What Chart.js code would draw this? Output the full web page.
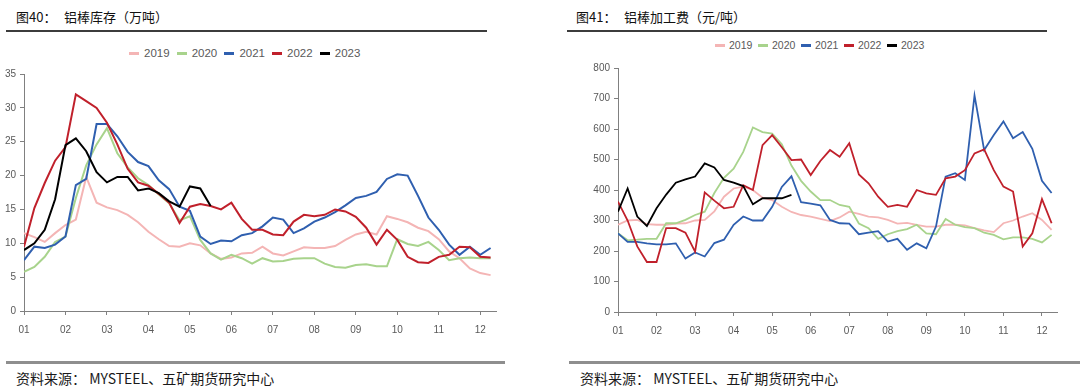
<!DOCTYPE html>
<html>
<head>
<meta charset="utf-8">
<script src="https://cdn.jsdelivr.net/npm/chart.js@4.4.0/dist/chart.umd.min.js"></script>
<style>
html,body{margin:0;padding:0;background:#fff;}
body{width:1080px;height:386px;overflow:hidden;position:relative;font-family:"Noto Sans CJK SC","Noto Sans",sans-serif;}
.t{position:absolute;top:8px;font-size:13px;line-height:18px;color:#111;white-space:nowrap;}
.rule{position:absolute;top:30px;height:1.5px;background:#3c3c3c;}
.srule{position:absolute;top:361px;height:2.5px;background:#8e8e8e;}
.src{position:absolute;top:369px;font-size:14px;line-height:18px;color:#1a1a1a;white-space:nowrap;}
.lg{position:absolute;display:flex;white-space:nowrap;color:#595959;font-family:"Liberation Sans Narrow","Arial Narrow","Liberation Sans",Arial,sans-serif;}
.lg .it{display:flex;align-items:center;}
.lg .mk{display:inline-block;height:3px;}
.box{position:absolute;}
</style>
</head>
<body>
<div class="t" style="left:16px">图40：</div>
<div class="t" style="left:64px">铝棒库存（万吨）</div>
<div class="rule" style="left:6px;width:481px"></div>
<div class="t" style="left:576px">图41：</div>
<div class="t" style="left:624px">铝棒加工费（元/吨）</div>
<div class="rule" style="left:567px;width:480px"></div>

<div class="lg" id="lg1" style="left:129px;top:45px;font-size:11.5px;line-height:16px"></div>
<div class="lg" id="lg2" style="left:715px;top:38px;font-size:10.5px;line-height:15px"></div>

<div class="box" style="left:0;top:60px;width:510px;height:276px"><canvas id="c1"></canvas></div>
<div class="box" style="left:560px;top:55px;width:510px;height:282px"><canvas id="c2"></canvas></div>

<div class="srule" style="left:6px;width:499px"></div>
<div class="src" style="left:16px">资料来源： MYSTEEL、五矿期货研究中心</div>
<div class="srule" style="left:569px;width:511px"></div>
<div class="src" style="left:580px">资料来源： MYSTEEL、五矿期货研究中心</div>

<script>
// ---------- data ----------
const years = ['2019', '2020', '2021', '2022', '2023'];
const colors = ['#f4b5b5', '#a8d38c', '#2f5faf', '#c0202b', '#000000'];
const monthLabels = ['01','02','03','04','05','06','07','08','09','10','11','12'];
const STEP = 0.25; // one sample per quarter month

// 图40 铝棒库存（万吨）
const inv2019 = [11.5,10.9,10.2,11.5,12.7,13.5,19.8,16.0,15.3,14.9,14.2,13.1,11.7,10.6,9.6,9.5,10.0,9.7,8.5,7.7,7.9,8.5,8.6,9.5,8.5,8.2,8.8,9.4,9.3,9.3,9.6,10.5,11.3,11.7,11.3,14.0,13.6,13.1,12.3,11.8,10.6,8.8,7.8,6.3,5.6,5.3];
const inv2020 = [5.8,6.5,8.0,10.2,11.0,16.7,21.5,24.6,27.0,23.3,21.2,19.6,18.6,17.2,15.9,13.4,14.0,10.5,8.5,7.6,8.3,7.8,7.0,7.8,7.3,7.4,7.7,7.8,7.8,7.0,6.5,6.4,6.8,6.9,6.6,6.6,10.6,9.9,9.6,10.2,9.0,7.5,7.8,7.9,7.8,7.8];
const inv2021 = [7.5,9.5,9.3,9.8,11.0,18.6,19.5,27.6,27.6,25.8,23.5,22.0,21.4,19.3,18.0,15.4,14.8,11.0,9.9,10.4,10.3,11.2,11.5,12.5,13.8,13.5,11.5,12.2,13.2,13.8,14.6,15.6,16.7,17.0,17.6,19.5,20.2,20.0,17.0,13.8,12.0,9.8,8.3,9.5,8.3,9.3];
const inv2022 = [9.5,15.2,18.9,22.2,24.2,32.0,31.0,30.0,27.8,24.6,21.0,19.0,18.5,17.3,16.0,13.0,15.4,15.8,15.5,15.0,16.0,13.6,12.0,12.0,11.3,11.2,13.2,14.2,14.0,14.2,15.0,14.7,13.9,12.3,9.8,12.0,10.5,8.0,7.2,7.1,8.0,8.3,9.5,9.4,8.0,7.9];
const inv2023 = [9.0,10.0,12.0,16.5,24.5,25.5,23.6,20.5,19.0,19.8,19.8,17.8,18.1,17.4,16.2,15.4,18.4,18.1,15.5];

// 图41 铝棒加工费（元/吨）
const fee2019 = [286,300,302,288,286,286,290,291,300,302,330,378,405,411,400,375,367,345,328,318,313,305,298,310,329,322,313,310,302,290,292,286,280,280,286,286,284,275,268,262,291,300,313,324,302,269];
const fee2020 = [258,235,237,240,240,291,291,302,318,329,390,440,470,525,605,590,585,550,480,430,395,367,367,351,345,290,275,240,255,265,272,286,258,255,305,286,278,275,260,253,238,245,245,240,228,253];
const fee2021 = [258,230,230,225,222,222,225,175,195,182,226,237,286,313,300,300,345,410,445,360,355,350,302,291,290,255,260,265,231,240,204,225,209,280,444,455,433,710,531,580,625,570,590,535,430,390];
const fee2022 = [362,300,215,164,164,275,275,260,198,392,365,340,345,416,400,547,580,540,498,500,449,495,531,509,553,451,422,378,345,351,345,400,389,384,438,444,465,520,533,465,411,395,215,258,370,291];
const fee2023 = [329,405,313,282,340,385,424,435,444,487,474,433,424,413,353,373,373,373,384];

// ---------- helpers ----------
const toPts = arr => arr.map((v, i) => ({x: i * STEP, y: v}));
const narrow = '"Liberation Sans Narrow","Arial Narrow","Liberation Sans",Arial,sans-serif';

function buildLegend(id, itemW, mkW, gap) {
  const el = document.getElementById(id);
  years.forEach((y, i) => {
    const it = document.createElement('div');
    it.className = 'it';
    it.style.width = itemW + 'px';
    const mk = document.createElement('span');
    mk.className = 'mk';
    mk.style.width = mkW + 'px';
    mk.style.background = colors[i];
    mk.style.marginRight = gap + 'px';
    const tx = document.createElement('span');
    tx.textContent = y;
    it.appendChild(mk); it.appendChild(tx);
    el.appendChild(it);
  });
}
buildLegend('lg1', 47.7, 10, 5);
buildLegend('lg2', 43, 10, 4);

function makeChart(id, series, opt) {
  const datasets = series.map((arr, i) => ({
    label: years[i],
    data: toPts(arr),
    borderColor: colors[i],
    backgroundColor: colors[i],
    borderWidth: opt.lw,
    pointRadius: 0,
    tension: 0,
    stepped: opt.stepped,
    order: 4 - i
  }));
  return new Chart(document.getElementById(id), {
    type: 'line',
    data: {datasets},
    options: {
      responsive: true,
      maintainAspectRatio: false,
      animation: false,
      layout: {padding: {top: opt.padTop, right: opt.padRight, left: 0, bottom: 0}},
      plugins: {legend: {display: false}, tooltip: {enabled: false}},
      scales: {
        x: {
          type: 'linear', min: 0, max: opt.xMax,
          afterFit: s => { s.height = 25; },
          grid: {drawOnChartArea: false, drawTicks: true, tickLength: 4, color: '#808080'},
          border: {display: true, color: '#808080', width: 1},
          ticks: {
            stepSize: 1, includeBounds: false, autoSkip: false, maxRotation: 0,
            padding: 9, color: '#595959', font: {family: narrow, size: 10},
            callback: v => monthLabels[v] || ''
          }
        },
        y: {
          min: 0, max: opt.yMax,
          afterFit: s => { s.width = opt.yW; },
          grid: {drawOnChartArea: false, drawTicks: true, tickLength: 4, color: '#808080'},
          border: {display: true, color: '#808080', width: 1},
          ticks: {stepSize: opt.yStep, padding: 4, color: '#595959', font: {family: narrow, size: 10}}
        }
      }
    }
  });
}

makeChart('c1', [inv2019, inv2020, inv2021, inv2022, inv2023],
  {lw: 2, stepped: false, xMax: 11.38, yMax: 35, yStep: 5, yW: 24, padTop: 14, padRight: 14});
makeChart('c2', [fee2019, fee2020, fee2021, fee2022, fee2023],
  {lw: 1.8, stepped: false, xMax: 11.39, yMax: 800, yStep: 100, yW: 58, padTop: 13, padRight: 13});
</script>
</body>
</html>
